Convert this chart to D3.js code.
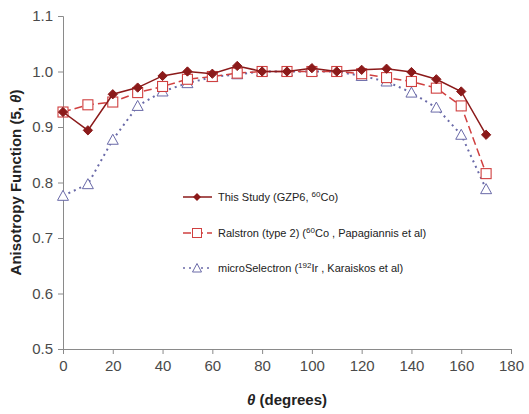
<!DOCTYPE html>
<html lang="en">
<head>
  <meta charset="UTF-8">
  <title>Anisotropy function</title>
  <style>
    body { margin: 0; background: #fff; }
    svg { font-family: "Liberation Sans", Arial, sans-serif; }
  </style>
  <script src="https://d3js.org/d3.v7.min.js"></script>
</head>
<body>
<script>
  // theta values (degrees)
  var theta = [0, 10, 20, 30, 40, 50, 60, 70, 80, 90, 100, 110, 120, 130, 140, 150, 160, 170];
  var thisStudy = [0.927, 0.894, 0.959, 0.971, 0.992, 1.000, 0.996, 1.010, 1.000, 1.000, 1.006, 1.000, 1.003, 1.005, 0.999, 0.986, 0.964, 0.886];
  var ralstron = [0.927, 0.940, 0.945, 0.962, 0.973, 0.986, 0.991, 0.997, 1.000, 1.000, 1.000, 1.000, 0.996, 0.989, 0.982, 0.970, 0.938, 0.816];
  var microSel = [0.776, 0.797, 0.877, 0.938, 0.964, 0.979, 0.990, 0.995, 1.000, 1.000, 1.000, 1.000, 0.992, 0.982, 0.962, 0.935, 0.886, 0.788];
  var xTicks = [0, 20, 40, 60, 80, 100, 120, 140, 160, 180];
  var yTicks = [0.5, 0.6, 0.7, 0.8, 0.9, 1.0, 1.1];

  var width = 529, height = 414;
  var margin = { left: 63, right: 18, top: 16, bottom: 65 };

  var svg = d3.select("body").append("svg")
    .attr("width", width)
    .attr("height", height);

  var x = d3.scaleLinear().domain([0, 180]).range([margin.left, width - margin.right]);
  var y = d3.scaleLinear().domain([0.5, 1.1]).range([height - margin.bottom, margin.top]);

  var xAxis = d3.axisBottom(x).tickValues(xTicks).tickSize(5).tickSizeOuter(5).tickPadding(6);
  var yAxis = d3.axisLeft(y).tickValues(yTicks).tickSize(5).tickSizeOuter(5).tickPadding(5)
    .tickFormat(d3.format(".1f"));

  var gx = svg.append("g")
    .attr("transform", "translate(0," + (height - margin.bottom) + ")")
    .call(xAxis);
  var gy = svg.append("g")
    .attr("transform", "translate(" + margin.left + ",0)")
    .call(yAxis);

  [gx, gy].forEach(function (g) {
    g.selectAll("path, line").attr("stroke", "#8a8a8a");
    g.selectAll("text").attr("fill", "#4a4a4a").style("font-size", "15px");
    g.attr("font-family", null);
  });

  var series = [
    { name: "study", values: thisStudy, color: "#8b1a1a", dash: null, marker: "diamond" },
    { name: "ralstron", values: ralstron, color: "#d04040", dash: "8,4", marker: "square" },
    { name: "micro", values: microSel, color: "#6a6aa8", dash: "2,4", marker: "triangle" }
  ];

  var line = d3.line()
    .x(function (d) { return x(d[0]); })
    .y(function (d) { return y(d[1]); });

  function drawMarker(g, type, color) {
    if (type === "diamond") {
      g.append("path").attr("d", d3.symbol().type(d3.symbolDiamond2).size(55))
        .attr("fill", color).attr("stroke", color);
    } else if (type === "square") {
      g.append("rect").attr("x", -5).attr("y", -5).attr("width", 10).attr("height", 10)
        .attr("fill", "#fff").attr("stroke", color).attr("stroke-width", 1.1);
    } else {
      g.append("path").attr("d", "M0,-5.5L5.5,4.5L-5.5,4.5Z")
        .attr("fill", "#fff").attr("stroke", color).attr("stroke-width", 1);
    }
  }

  // draw in reverse so "This Study" sits on top
  series.slice().reverse().forEach(function (s) {
    var pts = theta.map(function (t, i) { return [t, s.values[i]]; });
    svg.append("path").datum(pts)
      .attr("d", line)
      .attr("fill", "none")
      .attr("stroke", s.color)
      .attr("stroke-width", s.marker === "triangle" ? 2 : 1.5)
      .attr("stroke-dasharray", s.dash);
    pts.forEach(function (p) {
      var g = svg.append("g").attr("transform", "translate(" + x(p[0]) + "," + y(p[1]) + ")");
      drawMarker(g, s.marker, s.color);
    });
  });

  // legend
  var legendRows = [
    { s: series[0], parts: [["This Study (GZP6, ", 0], ["60", 1], ["Co)", 0]] },
    { s: series[1], parts: [["Ralstron (type 2) (", 0], ["60", 1], ["Co , Papagiannis et al)", 0]] },
    { s: series[2], parts: [["microSelectron (", 0], ["192", 1], ["Ir , Karaiskos et al)", 0]] }
  ];
  var legY = [197, 233, 268];
  legendRows.forEach(function (r, i) {
    var g = svg.append("g").attr("transform", "translate(0," + legY[i] + ")");
    g.append("line").attr("x1", 183).attr("x2", 212).attr("y1", 0).attr("y2", 0)
      .attr("stroke", r.s.color).attr("stroke-width", 1.5)
      .attr("stroke-dasharray", r.s.dash);
    var m = g.append("g").attr("transform", "translate(197,0)");
    if (r.s.marker === "diamond") {
      m.append("path").attr("d", d3.symbol().type(d3.symbolDiamond2).size(40))
        .attr("fill", r.s.color);
    } else if (r.s.marker === "square") {
      m.append("rect").attr("x", -4.5).attr("y", -4.5).attr("width", 9).attr("height", 9)
        .attr("fill", "#fff").attr("stroke", r.s.color);
    } else {
      m.append("path").attr("d", "M0,-4.5L4.5,4L-4.5,4Z")
        .attr("fill", "#fff").attr("stroke", r.s.color);
    }
    var t = g.append("text").attr("x", 218).attr("y", 4)
      .style("font-size", "11px").attr("fill", "#222");
    r.parts.forEach(function (p) {
      var ts = t.append("tspan").text(p[0]);
      if (p[1]) ts.attr("baseline-shift", "super").style("font-size", "8px");
    });
  });

  // axis titles
  var yt = svg.append("text")
    .attr("transform", "translate(21," + ((margin.top + height - margin.bottom) / 2) + ") rotate(-90)")
    .attr("text-anchor", "middle")
    .style("font-size", "15px").style("font-weight", "bold").attr("fill", "#222");
  yt.append("tspan").text("Anisotropy Function (5, ");
  yt.append("tspan").style("font-style", "italic").text("θ");
  yt.append("tspan").text(")");

  var xt = svg.append("text")
    .attr("x", (margin.left + width - margin.right) / 2)
    .attr("y", 405)
    .attr("text-anchor", "middle")
    .style("font-size", "15px").style("font-weight", "bold").attr("fill", "#222");
  xt.append("tspan").style("font-style", "italic").text("θ");
  xt.append("tspan").text(" (degrees)");
</script>
</body>
</html>
